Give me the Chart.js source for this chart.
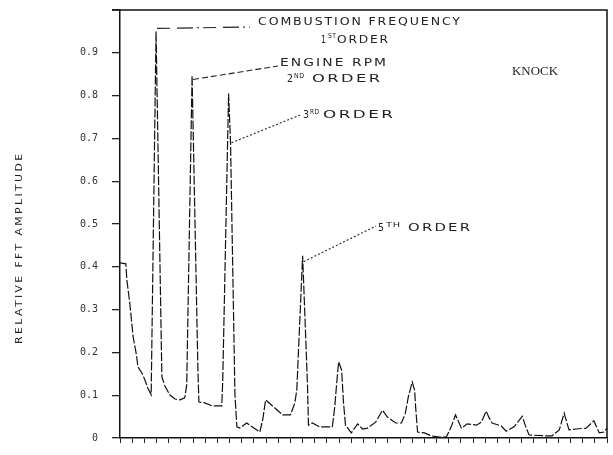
<!DOCTYPE html>
<html><head><meta charset="utf-8">
<script src="https://cdn.jsdelivr.net/npm/chart.js@4/dist/chart.umd.min.js"></script>
<style>html,body{margin:0;padding:0;background:#fff}canvas{display:block}</style>
</head><body>
<canvas id="c" width="613" height="455"></canvas>
<script>
// Frequency (arbitrary units, axis unlabelled) and relative FFT amplitude
const freq = [0,1.2,1.4,2.0,2.7,3.3,3.7,4.5,5.1,5.7,6.4,7.4,8.6,9.2,10.2,11.3,12.3,13.3,13.7,14.8,
  16.0,16.2,17.4,18.9,20.9,21.1,22.3,22.7,23.6,24.0,24.6,26.0,28.7,29.3,29.9,31.1,33.4,35.0,35.9,36.3,
  37.5,38.5,38.7,39.5,41.0,43.6,44.1,44.5,44.9,45.5,45.9,46.3,47.5,48.8,49.8,50.8,52.5,53.9,54.9,56.6,
  57.8,58.6,59.2,60.0,60.5,60.7,61.1,62.5,63.9,65.6,67.0,68.0,68.9,70.1,71.3,73.2,74.2,75.2,75.8,76.4,
  78.3,79.3,80.9,82.0,82.6,83.2,84.0,87.5,88.7,90.2,91.2,92.2,93.6,95.7,97.3,98.4,99.4,100];
const amplitude = [0.409,0.407,0.370,0.316,0.236,0.199,0.166,0.152,0.136,0.117,0.101,0.950,0.143,0.122,0.101,0.091,0.089,0.094,0.124,0.847,
  0.159,0.084,0.082,0.075,0.075,0.136,0.805,0.690,0.101,0.026,0.023,0.035,0.014,0.042,0.089,0.077,0.054,0.054,0.082,0.112,
  0.426,0.124,0.030,0.035,0.026,0.026,0.073,0.129,0.178,0.159,0.082,0.030,0.012,0.033,0.021,0.023,0.037,0.065,0.049,0.035,
  0.035,0.058,0.096,0.131,0.112,0.073,0.014,0.012,0.005,0.002,0.002,0.026,0.054,0.023,0.033,0.030,0.037,0.063,0.047,0.035,
  0.028,0.016,0.026,0.042,0.051,0.030,0.007,0.005,0.005,0.019,0.058,0.019,0.021,0.023,0.040,0.012,0.014,0.023];
const yTickValues = [0,0.1,0.2,0.3,0.4,0.5,0.6,0.7,0.8,0.9,1.0];
const yTickLabels = ['0','0.1','0.2','0.3','0.4','0.5','0.6','0.7','0.8','0.9',''];
// Points that the annotations point at (indices into the arrays above)
const peakCombustion = 11, peakRpm = 19, point3rd = 27, peak5th = 40;

function fitText(ctx, text, x, y, w, ls) {
  ctx.save();
  ctx.letterSpacing = (ls || 0) + 'px';
  const m = ctx.measureText(text).width - (ls || 0);
  ctx.translate(x, y);
  ctx.scale(w / m, 1);
  ctx.fillText(text, 0, 0);
  ctx.restore();
}

const annot = {
  id: 'annot',
  afterDraw(chart) {
    const ctx = chart.ctx, xs = chart.scales.x, ys = chart.scales.y, a = chart.chartArea;
    const P = i => [xs.getPixelForValue(freq[i]), ys.getPixelForValue(amplitude[i])];
    ctx.save();
    // frame (top and right)
    ctx.strokeStyle = '#111'; ctx.lineWidth = 1.5;
    ctx.beginPath(); ctx.moveTo(a.left - 8, a.top); ctx.lineTo(a.right, a.top); ctx.lineTo(a.right, a.bottom); ctx.stroke();

    // leader lines
    ctx.lineWidth = 1.1; ctx.strokeStyle = '#222';
    let p = P(peakCombustion);
    ctx.setLineDash([13, 7, 16, 4, 2, 4]);
    ctx.beginPath(); ctx.moveTo(p[0] + 1, p[1] - 3); ctx.lineTo(250, 27); ctx.stroke();
    p = P(peakRpm);
    ctx.setLineDash([6, 3]);
    ctx.beginPath(); ctx.moveTo(p[0] + 1, p[1] + 4); ctx.lineTo(278, 66); ctx.stroke();
    p = P(point3rd);
    ctx.setLineDash([2, 2]);
    ctx.beginPath(); ctx.moveTo(p[0] + 1, p[1]); ctx.lineTo(300, 115); ctx.stroke();
    p = P(peak5th);
    ctx.beginPath(); ctx.moveTo(p[0] + 1, p[1] + 6); ctx.lineTo(376, 226); ctx.stroke();
    ctx.setLineDash([]);

    // texts
    ctx.fillStyle = '#222'; ctx.textBaseline = 'middle'; ctx.textAlign = 'left';
    ctx.font = '10px "DejaVu Sans"';
    fitText(ctx, 'COMBUSTION FREQUENCY', 258, 22, 202, 1.5);
    fitText(ctx, 'ENGINE RPM', 280, 63, 106, 1.5);
    fitText(ctx, '1', 321, 40, 5);
    fitText(ctx, 'ORDER', 337, 40, 51, 1.5);
    fitText(ctx, '2', 287, 79, 6);
    fitText(ctx, 'ORDER', 312, 79, 68, 1.5);
    fitText(ctx, '3', 303, 115, 6);
    fitText(ctx, 'ORDER', 323, 115, 70, 1.5);
    fitText(ctx, '5', 378, 228, 6);
    fitText(ctx, 'ORDER', 408, 228, 62, 1.5);
    ctx.font = '7px "DejaVu Sans"';
    fitText(ctx, 'ST', 328, 36, 8, 0.5);
    fitText(ctx, 'ND', 294, 76, 10, 0.5);
    fitText(ctx, 'RD', 310, 112, 9, 0.5);
    fitText(ctx, 'TH', 386, 225, 14, 0.5);
    ctx.font = '12px "Liberation Serif"';
    fitText(ctx, 'KNOCK', 512, 72, 46);

    // y axis title
    ctx.translate(20, 247);
    ctx.rotate(-Math.PI / 2);
    ctx.font = '9px "DejaVu Sans"';
    fitText(ctx, 'RELATIVE FFT AMPLITUDE', -97, 0, 190, 2);
    ctx.restore();
  }
};

new Chart(document.getElementById('c'), {
  type: 'line',
  data: {
    datasets: [{
      data: freq.map((f, i) => ({ x: f, y: amplitude[i] })),
      borderColor: '#111',
      borderWidth: 1.2,
      borderDash: [9, 2],
      pointRadius: 0,
      tension: 0,
      fill: false
    }]
  },
  options: {
    responsive: false,
    animation: false,
    devicePixelRatio: 1,
    layout: { padding: { left: 0, right: 6, top: 10, bottom: 0 } },
    plugins: { legend: { display: false }, tooltip: { enabled: false } },
    scales: {
      x: {
        type: 'linear', min: 0, max: 100,
        afterFit(s) { s.height = 17; s.paddingLeft = 0; s.paddingRight = 0; },
        ticks: { stepSize: 2.5, autoSkip: false, callback: () => '', font: { size: 1 } },
        grid: { drawOnChartArea: false, drawTicks: true, tickLength: 5, color: '#222', lineWidth: 1 },
        border: { display: true, color: '#111', width: 1.5 }
      },
      y: {
        type: 'linear', min: 0, max: 1,
        afterFit(s) { s.width = 120; s.paddingTop = 0; s.paddingBottom = 0; },
        afterBuildTicks(s) { s.ticks = yTickValues.map(v => ({ value: v })); },
        ticks: {
          padding: 14, color: '#333',
          font: { family: '"DejaVu Sans Mono"', size: 10 },
          callback: (v) => { const i = yTickValues.findIndex(t => Math.abs(t - v) < 1e-6); return i >= 0 ? yTickLabels[i] : ''; }
        },
        grid: { drawOnChartArea: false, drawTicks: true, tickLength: 8, color: '#222', lineWidth: 1.3 },
        border: { display: true, color: '#111', width: 1.5 }
      }
    }
  },
  plugins: [annot]
});
</script>
</body></html>
